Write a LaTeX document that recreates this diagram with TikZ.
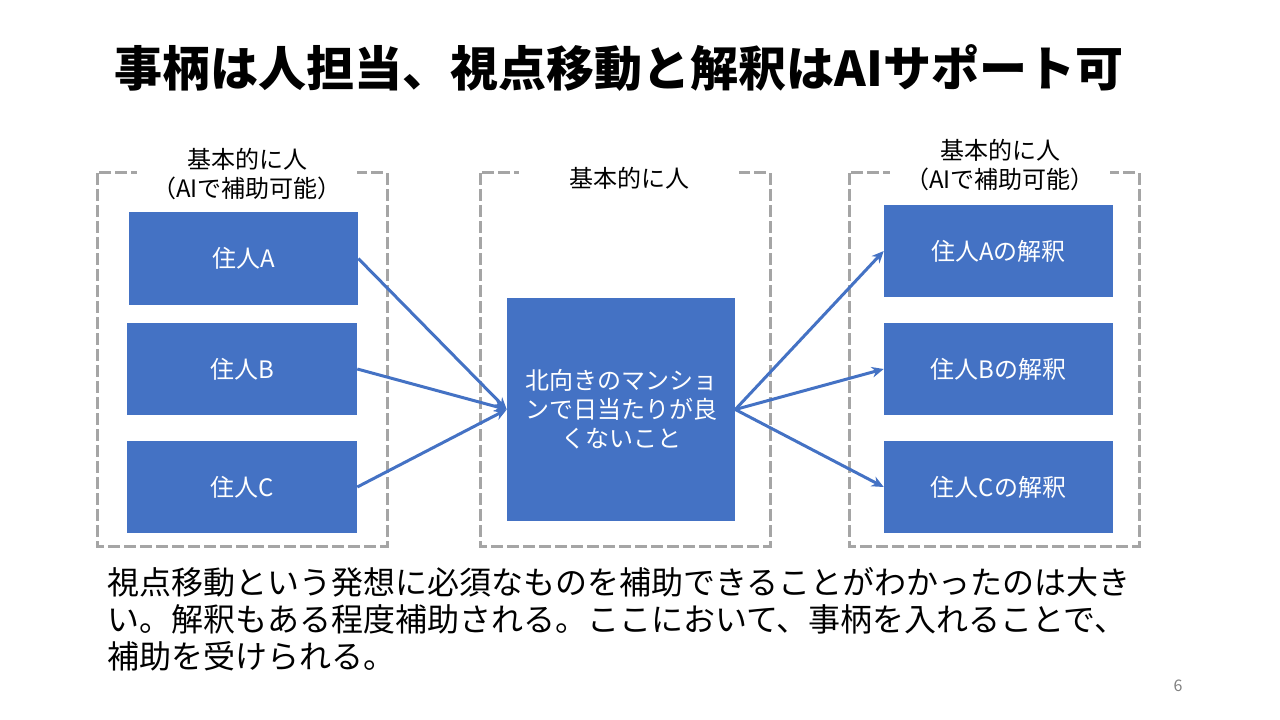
\documentclass[tikz,border=0pt]{standalone}
\usepackage{fontspec}
\setmainfont{Noto Sans CJK JP}
\usetikzlibrary{arrows.meta}
\definecolor{boxblue}{HTML}{4472C4}
\definecolor{dashgray}{HTML}{A5A5A5}
\newcommand{\jnin}[1]{住人#1}
\newcommand{\kai}[1]{住人#1の解釈}
\newcommand{\kihon}{基本的に人}

\begin{document}
\begin{tikzpicture}[x=0.75pt,y=-0.75pt,
	box/.style={fill=boxblue,text=white,inner sep=0pt,align=center,
		font=\fontsize{18}{21.75}\selectfont},
	frame/.style={draw=dashgray,line width=2.25pt,dash pattern=on 9pt off 3pt},
	tag/.style={fill=white,inner sep=1pt,minimum width=165pt,align=center,
		font=\fontsize{18}{22}\selectfont},
	link/.style={draw=boxblue,line width=2.25pt,-{Stealth[length=9pt,width=8pt]}}]
\useasboundingbox (0,0) rectangle (1280,720);
\node[font=\fontsize{36}{40}\selectfont\bfseries] (title) at (619,68)
	{事柄は人担当、視点移動と解釈はAIサポート可};
\draw[frame] (97,173) rectangle (387,546);
\draw[frame] (480,173) rectangle (770,546);
\draw[frame] (849,173) rectangle (1139,546);
\node[tag] (tagL) at (247,174) {\kihon\\（AIで補助可能）};
\node[tag] (tagM) at (629,178) {\kihon};
\node[tag] (tagR) at (1000,165) {\kihon\\（AIで補助可能）};
\node[box,minimum width=171.75pt,minimum height=69pt] (jA) at (243.5,258.5) {\jnin{A}};
\node[box,minimum width=172.5pt,minimum height=69pt] (jB) at (242,369) {\jnin{B}};
\node[box,minimum width=172.5pt,minimum height=69pt] (jC) at (242,487) {\jnin{C}};
\node[box,minimum width=171pt,minimum height=167.25pt] (fact) at (621,409.5)
	{北向きのマンショ\\ンで日当たりが良\\くないこと};
\node[box,minimum width=171.75pt,minimum height=69pt] (kA) at (998.5,251) {\kai{A}};
\node[box,minimum width=171.75pt,minimum height=69pt] (kB) at (998.5,369) {\kai{B}};
\node[box,minimum width=171.75pt,minimum height=69pt] (kC) at (998.5,487) {\kai{C}};
\draw[link] (jA.east) -- (fact.west);
\draw[link] (jB.east) -- (fact.west);
\draw[link] (jC.east) -- (fact.west);
\draw[link] (fact.east) -- (kA.west);
\draw[link] (fact.east) -- (kB.west);
\draw[link] (fact.east) -- (kC.west);
\node[anchor=north west,inner sep=0pt,align=left,font=\fontsize{24}{27.75}\selectfont]
	(note) at (107,567)
	{視点移動という発想に必須なものを補助できることがわかったのは大き\\
	 い。解釈もある程度補助される。ここにおいて、事柄を入れることで、\\
	 補助を受けられる。};
\node[text=gray,font=\fontsize{12}{14}\selectfont] (pnum) at (1178,686) {6};
\end{tikzpicture}
\end{document}
